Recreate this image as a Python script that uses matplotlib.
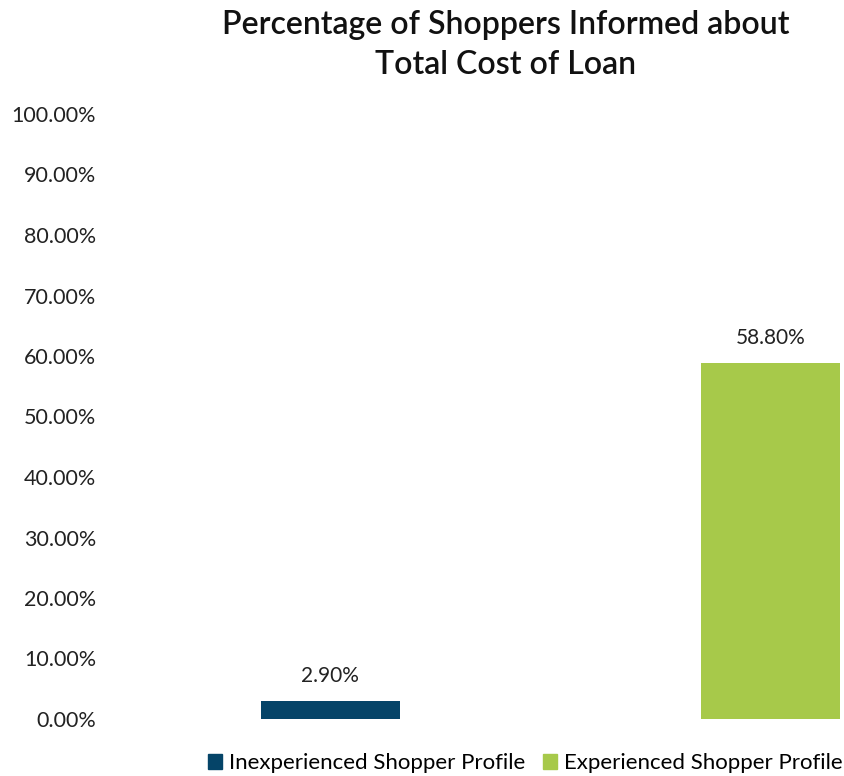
import matplotlib.pyplot as plt
from matplotlib.patches import Patch

series = ["Inexperienced Shopper Profile", "Experienced Shopper Profile"]
values = [2.90, 58.80]
colors = ["#054468", "#a7c94a"]
yticks = [0, 10, 20, 30, 40, 50, 60, 70, 80, 90, 100]

plt.rcParams["font.family"] = ["Lato", "DejaVu Sans"]

fig = plt.figure(figsize=(8.45, 7.76), dpi=100)
ax = fig.add_axes([110 / 845, 57 / 776, 735 / 845, 605 / 776])

x = list(range(len(values)))
bars = ax.bar(x, values, width=0.316, color=colors)
for b, v in zip(bars, values):
    ax.annotate(f"{v:.2f}%", (b.get_x() + b.get_width() / 2, v),
                xytext=(0, 11), textcoords="offset points",
                ha="center", va="bottom", fontsize=15, color="#222222")

ax.set_xlim(-0.5, 1.17)
ax.set_ylim(0, 100)
ax.set_yticks(yticks)
ax.set_yticklabels([f"{t:.2f}%" for t in yticks], fontsize=15.5, color="#222222")
ax.set_xticks([])
ax.tick_params(axis="y", length=0, pad=10)
for s in ax.spines.values():
    s.set_visible(False)

fig.text(506 / 845, 1 - 45 / 776, "Percentage of Shoppers Informed about\nTotal Cost of Loan",
         ha="center", va="center", fontsize=23, fontweight="semibold",
         linespacing=1.45, color="#111111")

handles = [Patch(color=c, label=s) for c, s in zip(colors, series)]
fig.legend(handles=handles, loc="center", bbox_to_anchor=(525 / 845, 1 - 763 / 776),
           ncol=2, frameon=False, fontsize=16, handlelength=0.65, handleheight=0.65,
           handletextpad=0.3, columnspacing=0.8)

fig.savefig("out.png", dpi=100)
